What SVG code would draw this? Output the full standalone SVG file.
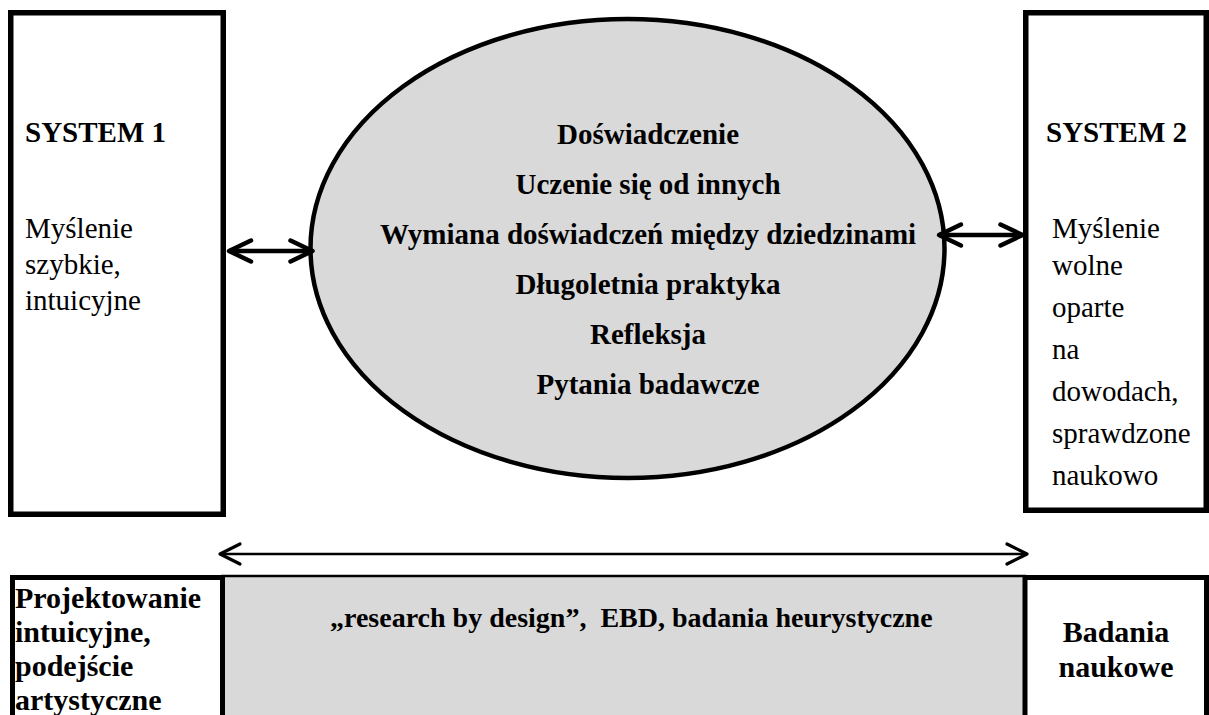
<svg xmlns="http://www.w3.org/2000/svg" width="1209" height="715" viewBox="0 0 1209 715">
<defs>
<style>
text{font-family:"Liberation Serif","Times New Roman",serif;fill:#000}
.b{font-weight:bold;font-size:29px}
.r{font-size:29px}
.bb{font-weight:bold;font-size:30px}
.box{fill:#fff;stroke:#000;stroke-width:5.5}
.gray{fill:#d9d9d9;stroke:#000}
.thick{stroke:#000;stroke-width:4.5;fill:none}
.thin{stroke:#000;stroke-width:2.5;fill:none}
</style>
<marker id="headThick" markerUnits="userSpaceOnUse" viewBox="-27 -14 30 28" refX="0" refY="0" markerWidth="30" markerHeight="28" orient="auto-start-reverse">
<path d="M-22,-10.5 L0,0 L-22,10.5" fill="none" stroke="#000" stroke-width="4.5" stroke-linecap="round" stroke-linejoin="round"/>
</marker>
<marker id="headThin" markerUnits="userSpaceOnUse" viewBox="-24 -13 27 26" refX="0" refY="0" markerWidth="27" markerHeight="26" orient="auto-start-reverse">
<path d="M-20,-10 L0,0 L-20,10" fill="none" stroke="#000" stroke-width="3.2" stroke-linecap="round" stroke-linejoin="round"/>
</marker>
</defs>

<g id="system1">
<rect class="box" x="10.75" y="12.75" width="212.5" height="501.5"/>
<text class="b" x="25" y="142">SYSTEM 1</text>
<text class="r" x="25" y="238">Myślenie</text>
<text class="r" x="25" y="274">szybkie,</text>
<text class="r" x="25" y="310">intuicyjne</text>
</g>

<g id="center">
<ellipse cx="627.5" cy="248.5" rx="317" ry="229.5" fill="#d9d9d9" stroke="#000" stroke-width="4.5"/>
<text class="b" x="648" y="144" text-anchor="middle">Doświadczenie</text>
<text class="b" x="648" y="193.5" text-anchor="middle">Uczenie się od innych</text>
<text class="b" x="648" y="244" text-anchor="middle">Wymiana doświadczeń między dziedzinami</text>
<text class="b" x="648" y="294" text-anchor="middle">Długoletnia praktyka</text>
<text class="b" x="648" y="344" text-anchor="middle">Refleksja</text>
<text class="b" x="648" y="394" text-anchor="middle">Pytania badawcze</text>
</g>

<g id="system2">
<rect class="box" x="1025.75" y="12.75" width="180.5" height="497.5"/>
<text class="b" x="1046" y="142">SYSTEM 2</text>
<text class="r" x="1052" y="238">Myślenie</text>
<text class="r" x="1052" y="275">wolne</text>
<text class="r" x="1052" y="317">oparte</text>
<text class="r" x="1052" y="359">na</text>
<text class="r" x="1052" y="401">dowodach,</text>
<text class="r" x="1052" y="443">sprawdzone</text>
<text class="r" x="1052" y="485">naukowo</text>
</g>

<g id="middle-band">
<rect class="gray" stroke-width="2.5" x="222.5" y="576" width="802.5" height="200"/>
<text class="b" x="330" y="627" xml:space="preserve" style="font-size:28px">„research by design”,  EBD, badania heurystyczne</text>
</g>

<g id="design">
<rect class="box" x="12.5" y="577.5" width="210" height="200" style="stroke-width:5"/>
<text class="bb" x="15" y="608">Projektowanie</text>
<text class="bb" x="15" y="642">intuicyjne,</text>
<text class="bb" x="15" y="676">podejście</text>
<text class="bb" x="15" y="710">artystyczne</text>
</g>

<g id="science">
<rect class="box" x="1025" y="577.5" width="181.5" height="200" style="stroke-width:5"/>
<text class="bb" x="1116" y="642" text-anchor="middle">Badania</text>
<text class="bb" x="1116" y="677" text-anchor="middle">naukowe</text>
</g>

<g id="connectors">
<line class="thick" x1="229" y1="251" x2="312.5" y2="251" marker-start="url(#headThick)" marker-end="url(#headThick)"/>
<line class="thick" x1="939" y1="235" x2="1022.5" y2="235" marker-start="url(#headThick)" marker-end="url(#headThick)"/>
<line class="thin" x1="220" y1="554" x2="1027" y2="554" marker-start="url(#headThin)" marker-end="url(#headThin)"/>
</g>
</svg>
